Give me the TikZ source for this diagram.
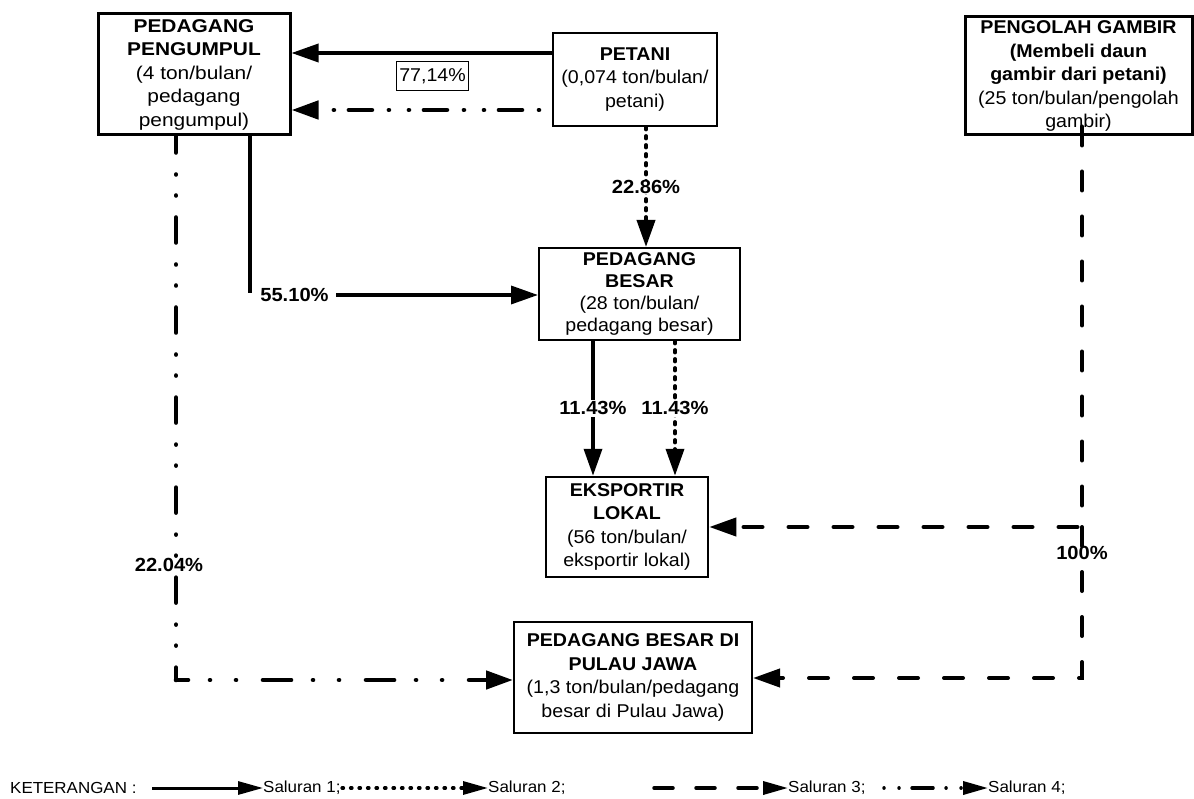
\documentclass[tikz,border=0pt]{standalone}
\usepackage{fontspec}
\setmainfont[FakeStretch=1.06]{Liberation Sans}
\newfontfamily\ppfont[FakeStretch=1.13]{Liberation Sans}
\usetikzlibrary{arrows.meta}
\begin{document}
\begin{tikzpicture}[x=1pt,y=-1pt,
  box/.style={draw, line width=2.5pt, align=center, inner sep=0pt, font=\fontsize{18.5}{23.5}\selectfont},
  lbl/.style={font=\fontsize{19}{22}\selectfont\bfseries, inner sep=1.5pt},
  leg/.style={font=\fontsize{16}{20}\selectfont, inner sep=0pt},
  arr/.style={-{Triangle[length=27pt,width=18pt]}},
  larr/.style={-{Triangle[length=25pt,width=13pt]}},
  ch1/.style={line width=3.5pt},
  ch2/.style={line width=3.8pt, line cap=round, dash pattern=on 2.5pt off 6.5pt},
  ch3/.style={line width=4pt, line cap=round, dash pattern=on 19pt off 26pt},
  ch4/.style={line width=4.6pt, line cap=round},
  lg1/.style={line width=3pt},
  lg2/.style={line width=3.2pt, line cap=round, dash pattern=on 1.5pt off 7pt},
  lg3/.style={line width=3.5pt, line cap=round, dash pattern=on 19pt off 23pt},
  lg4/.style={line width=3.5pt, line cap=round, dash pattern=on 0.01pt off 15pt on 0.01pt off 13pt on 21pt off 13pt}
]
\useasboundingbox (0,0) rectangle (1194,799);

% boxes
\node[box, line width=3pt, minimum width=192pt, minimum height=121pt, font=\ppfont\fontsize{18.5}{23.5}\selectfont] (PP) at (194,74.5)
  {\textbf{PEDAGANG}\\\textbf{PENGUMPUL}\\(4 ton/bulan/\\pedagang\\pengumpul)};
\node[box, line width=2pt, minimum width=164pt, minimum height=93pt] (PETANI) at (635,79.5)
  {\textbf{PETANI}\\(0,074 ton/bulan/\\petani)};
\node[box, line width=2pt, minimum width=201pt, minimum height=92pt, font=\fontsize{18.5}{22}\selectfont] (PB) at (639.5,294)
  {\textbf{PEDAGANG}\\\textbf{BESAR}\\(28 ton/bulan/\\pedagang besar)};
\node[box, line width=2.5pt, minimum width=162pt, minimum height=100pt] (EL) at (627,527)
  {\textbf{EKSPORTIR}\\\textbf{LOKAL}\\(56 ton/bulan/\\eksportir lokal)};
\node[box, line width=2pt, minimum width=238pt, minimum height=111pt] (PBJ) at (633,677.5)
  {\textbf{PEDAGANG BESAR DI}\\\textbf{PULAU JAWA}\\(1,3 ton/bulan/pedagang\\besar di Pulau Jawa)};
\node[box, line width=3pt, minimum width=227pt, minimum height=118pt] (PG) at (1078.5,76)
  {\textbf{PENGOLAH GAMBIR}\\\textbf{(Membeli daun}\\\textbf{gambir dari petani)}\\(25 ton/bulan/pengolah\\gambir)};

% PETANI -> PEDAGANG PENGUMPUL
\draw[ch1,arr] (PETANI.west |- 0,53) -- (PP.east |- 0,53);
\node[draw, line width=1pt, font=\fontsize{18.5}{22}\selectfont, inner xsep=2.5pt, minimum height=29pt] (l77) at (432.5,76.5) {77,14\%};
\draw[ch4,arr, dash pattern=on 0.01pt off 17pt on 23pt off 15pt on 0.01pt off 20pt, dash phase=62pt]
  (PETANI.west |- 0,110) -- (PP.east |- 0,110);

% PETANI -> PEDAGANG BESAR
\draw[ch2,arr] (PETANI.south -| 646,0) -- node[lbl, fill=white, inner sep=0.5pt] {22.86\%} (PB.north -| 646,0);

% PEDAGANG PENGUMPUL -> PEDAGANG BESAR
\coordinate (c55) at (250,293);
\draw[ch1] (PP.south -| c55) -- (c55);
\node[lbl] (l55) at (294.5,295) {55.10\%};
\draw[ch1,arr] ([xshift=6pt]l55.east) -- (PB.west |- l55.east);

% PEDAGANG BESAR -> EKSPORTIR LOKAL
\draw[ch1,arr] (PB.south -| 593,0) -- node[lbl, fill=white] {11.43\%} (EL.north -| 593,0);
\draw[ch2,arr] (PB.south -| 675,0) -- node[lbl, fill=white] {11.43\%} (EL.north -| 675,0);

% PEDAGANG PENGUMPUL -> PEDAGANG BESAR DI PULAU JAWA
\coordinate (cpp) at (176,680);
\draw[ch4, dash pattern=on 25pt off 22pt on 0.01pt off 21pt on 0.01pt off 22pt, dash phase=9pt]
  (PP.south -| cpp) -- (cpp);
\draw[ch4,arr, dash pattern=on 28pt off 22pt on 0.01pt off 26pt on 0.01pt off 27pt, dash phase=16pt]
  (cpp) -- (PBJ.west |- cpp);
\node[lbl] (l22) at (169,565) {22.04\%};

% PENGOLAH GAMBIR -> EKSPORTIR LOKAL / PULAU JAWA
\draw[ch3,arr] ([xshift=3.5pt,yshift=10pt]PG.south) |- (EL.east);
\coordinate (pgc) at (1082,527);
\draw[ch3,arr] (pgc) |- (PBJ.east |- 0,678);
\node[lbl] (l100) at (1082,553) {100\%};

% legend
\node[leg, anchor=west] (ket) at (10,788) {KETERANGAN :};
\coordinate (a1) at (152,788);
\node[leg, anchor=west] (s1) at (263,788) {Saluran 1;};
\draw[lg1,larr] (a1) -- (s1.west);
\coordinate (a2) at (342,788);
\node[leg, anchor=west] (s2) at (488,788) {Saluran 2;};
\draw[lg2,larr] (a2) -- (s2.west);
\coordinate (a3) at (654,788);
\node[leg, anchor=west] (s3) at (788,788) {Saluran 3;};
\draw[lg3,larr] (a3) -- (s3.west);
\coordinate (a4) at (884,788);
\node[leg, anchor=west] (s4) at (988,788) {Saluran 4;};
\draw[lg4,larr] (a4) -- (s4.west);
\end{tikzpicture}
\end{document}
